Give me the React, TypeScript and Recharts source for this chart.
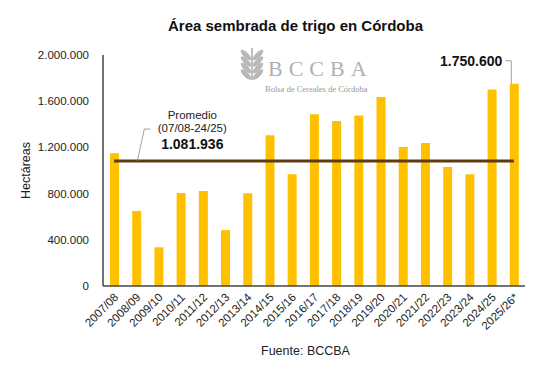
import { Bar, Line, XAxis, YAxis, ComposedChart } from 'recharts';

const seasons = ['2007/08', '2008/09', '2009/10', '2010/11', '2011/12', '2012/13', '2013/14', '2014/15', '2015/16', '2016/17', '2017/18', '2018/19', '2019/20', '2020/21', '2021/22', '2022/23', '2023/24', '2024/25', '2025/26*'];
const hectareas = [1150000, 650000, 335000, 806000, 823000, 484000, 803000, 1305000, 968000, 1486000, 1428000, 1477000, 1636000, 1203000, 1238000, 1031000, 968000, 1702000, 1750600];
const promedio = 1081936;
const yTicks = [0, 400000, 800000, 1200000, 1600000, 2000000];

const data = seasons.map((s, i) => ({ season: s, value: hectareas[i], avg: promedio }));

const FONT = '"Liberation Sans", Arial, sans-serif';
const fmt = (v: number) => String(Math.round(v)).replace(/\B(?=(\d{3})+(?!\d))/g, '.');

const XTick = ({ x, y, payload }: any) => (
  <text x={x + 5} y={y + 4} transform={`rotate(-45, ${x + 5}, ${y + 4})`} textAnchor="end" fontSize={11.5} fill="#222" fontFamily={FONT}>
    {payload.value}
  </text>
);

// label for the last bar: value + leader line
const LastLabel = ({ x, y, width, index, value }: any) => {
  if (index !== hectareas.length - 1) return null;
  const cx = x + width / 2;
  return (
    <g>
      <polyline points={`${cx - 9},${y - 23} ${cx - 3},${y - 23} ${cx - 3},${y}`} fill="none" stroke="#888" strokeWidth={0.8} />
      <text x={cx - 12} y={y - 18} textAnchor="end" fontSize={14} fontWeight="bold" fill="#111" fontFamily={FONT}>{fmt(value)}</text>
    </g>
  );
};

const AvgLabel = ({ x, y, index }: any) => {
  if (index !== 1) return null;
  return (
    <g fontFamily={FONT} fill="#222">
      <polyline points={`${x + 1},${y} ${x + 8},${y - 32} ${x + 14},${y - 32}`} fill="none" stroke="#888" strokeWidth={0.8} />
      <text x={x + 56} y={y - 42} textAnchor="middle" fontSize={11.5}>Promedio</text>
      <text x={x + 56} y={y - 29} textAnchor="middle" fontSize={11.5}>(07/08-24/25)</text>
      <text x={x + 56} y={y - 12} textAnchor="middle" fontSize={14} fontWeight="bold" fill="#111">{fmt(promedio)}</text>
    </g>
  );
};

const Logo = () => (
  <svg width={160} height={60} style={{ position: 'absolute', left: 232, top: 44 }}>
    <g fill="#b8b8b8">
      <line x1={20} y1={4} x2={20} y2={36} stroke="#b8b8b8" strokeWidth={1.8} />
      {[0, 1, 2, 3].map((k) => (
        <g key={k}>
          <ellipse cx={14} cy={11 + k * 6.5} rx={2.6} ry={7} transform={`rotate(-45, 14, ${11 + k * 6.5})`} />
          <ellipse cx={26} cy={11 + k * 6.5} rx={2.6} ry={7} transform={`rotate(45, 26, ${11 + k * 6.5})`} />
        </g>
      ))}
    </g>
    <text x={36} y={32} fontFamily='"Liberation Serif", "DejaVu Serif", serif' fontSize={22} letterSpacing={6} fill="#b0b0b0">BCCBA</text>
    <text x={33} y={48} fontFamily='"Liberation Serif", "DejaVu Serif", serif' fontSize={8.5} fill="#999">Bolsa de Cereales de Córdoba</text>
  </svg>
);

export default function App() {
  return (
    <div style={{ position: 'absolute', left: 0, top: 0, width: 547, height: 367, background: '#fff', fontFamily: FONT }}>
      <div style={{ position: 'absolute', left: 0, width: 547, top: 17, textAlign: 'center', fontSize: 15, fontWeight: 'bold', color: '#111', paddingLeft: 22 }}>
        Área sembrada de trigo en Córdoba
      </div>
      <Logo />
      <div style={{ position: 'absolute', left: 0, top: 0 }}>
        <ComposedChart width={547} height={367} data={data} margin={{ top: 55, right: 22, bottom: 21, left: 0 }} barSize={9}>
          <XAxis dataKey="season" interval={0} tickLine={false} axisLine={{ stroke: '#444', strokeWidth: 1.5 }} tick={<XTick />} height={60} />
          <YAxis domain={[0, 2000000]} ticks={yTicks} width={103} tickLine={false} axisLine={{ stroke: '#444', strokeWidth: 1.5 }}
            tickFormatter={(v) => fmt(Number(v))} tick={{ fontSize: 11.5, fill: '#222', fontFamily: FONT }} tickMargin={8}
            label={{ value: 'Hectáreas', angle: -90, position: 'insideLeft', offset: 26, style: { fontSize: 12.5, fill: '#222', fontFamily: FONT, textAnchor: 'middle' } }} />
          <Bar dataKey="value" fill="#FFC000" isAnimationActive={false} label={<LastLabel />} />
          <Line dataKey="avg" type="linear" stroke="#5E3A10" strokeWidth={3} dot={false} isAnimationActive={false} label={<AvgLabel />} />
        </ComposedChart>
      </div>
      <div style={{ position: 'absolute', left: 0, width: 547, top: 344, textAlign: 'center', fontSize: 12.5, color: '#222', paddingLeft: 32 }}>
        Fuente: BCCBA
      </div>
    </div>
  );
}
